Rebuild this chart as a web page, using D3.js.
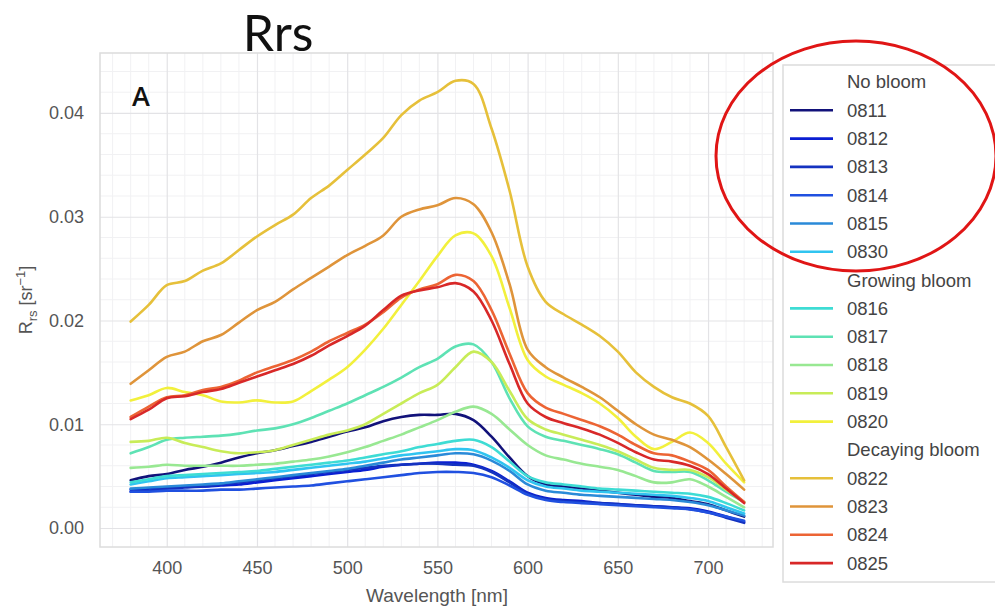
<!DOCTYPE html>
<html><head><meta charset="utf-8">
<script src="https://cdn.jsdelivr.net/npm/d3@7"></script>
<style>
body{margin:0;background:#fff;}
svg{display:block;font-family:"Liberation Sans",Arial,sans-serif;}
</style></head>
<body><svg id="chart" width="995" height="607"></svg>
<script>
const wavelengths = [380,390,400,410,420,430,440,450,460,470,480,490,500,510,520,530,540,550,560,570,580,590,600,610,620,630,640,650,660,670,680,690,700,710,720];

const groups = ["No bloom","Growing bloom","Decaying bloom"];
const seriesNames = ["0811","0812","0813","0814","0815","0830","0816","0817","0818","0819","0820","0822","0823","0824","0825"];
const seriesGroup = [0,0,0,0,0,0,1,1,1,1,1,2,2,2,2];
const seriesColors = ["#12127a","#0a1ed2","#1432c0","#2050e0","#2a8ad8","#30c4f0","#3edcd4","#5ee2b4","#98e892","#c8ec58","#f2f03c","#e6c03a","#df943a","#ec6434","#d82828"];

const s0811 = [0.0046,0.0050,0.0052,0.0056,0.0059,0.0063,0.0068,0.0072,0.0075,0.0079,0.0083,0.0088,0.0093,0.0097,0.0103,0.0107,0.0109,0.0109,0.0110,0.0104,0.0088,0.0068,0.0050,0.0042,0.0040,0.0038,0.0036,0.0034,0.0032,0.0030,0.0029,0.0026,0.0023,0.0017,0.0011];
const s0812 = [0.0037,0.0038,0.0039,0.0040,0.0040,0.0041,0.0042,0.0044,0.0046,0.0048,0.0050,0.0052,0.0054,0.0056,0.0059,0.0061,0.0062,0.0063,0.0063,0.0061,0.0055,0.0045,0.0034,0.0029,0.0027,0.0026,0.0024,0.0023,0.0022,0.0021,0.0020,0.0019,0.0016,0.0011,0.0006];
const s0813 = [0.0035,0.0036,0.0038,0.0039,0.0040,0.0042,0.0044,0.0046,0.0048,0.0050,0.0052,0.0054,0.0056,0.0058,0.0060,0.0061,0.0062,0.0062,0.0061,0.0060,0.0054,0.0044,0.0033,0.0028,0.0026,0.0025,0.0024,0.0023,0.0022,0.0021,0.0020,0.0018,0.0015,0.0010,0.0005];
const s0814 = [0.0035,0.0035,0.0036,0.0036,0.0036,0.0037,0.0037,0.0038,0.0039,0.0040,0.0041,0.0043,0.0045,0.0047,0.0049,0.0051,0.0053,0.0054,0.0054,0.0053,0.0049,0.0041,0.0032,0.0027,0.0025,0.0024,0.0023,0.0022,0.0021,0.0020,0.0019,0.0018,0.0015,0.0011,0.0007];
const s0815 = [0.0038,0.0039,0.0040,0.0041,0.0042,0.0043,0.0045,0.0047,0.0049,0.0051,0.0053,0.0055,0.0057,0.0060,0.0063,0.0066,0.0068,0.0070,0.0072,0.0071,0.0065,0.0055,0.0042,0.0036,0.0034,0.0032,0.0031,0.0030,0.0029,0.0028,0.0027,0.0025,0.0022,0.0017,0.0012];
const s0830 = [0.0042,0.0045,0.0048,0.0049,0.0050,0.0051,0.0052,0.0053,0.0054,0.0056,0.0058,0.0060,0.0062,0.0064,0.0067,0.0070,0.0072,0.0074,0.0076,0.0075,0.0068,0.0058,0.0046,0.0040,0.0038,0.0036,0.0035,0.0034,0.0033,0.0032,0.0031,0.0029,0.0026,0.0020,0.0014];
const s0816 = [0.0044,0.0047,0.0050,0.0051,0.0052,0.0053,0.0054,0.0055,0.0057,0.0059,0.0061,0.0063,0.0065,0.0068,0.0071,0.0074,0.0078,0.0081,0.0084,0.0085,0.0078,0.0064,0.0050,0.0044,0.0042,0.0040,0.0038,0.0037,0.0036,0.0035,0.0034,0.0033,0.0030,0.0024,0.0017];
const s0817 = [0.0072,0.0078,0.0085,0.0087,0.0088,0.0089,0.0091,0.0094,0.0096,0.0100,0.0106,0.0113,0.0120,0.0128,0.0136,0.0145,0.0155,0.0163,0.0175,0.0177,0.0160,0.0125,0.0098,0.0088,0.0084,0.0080,0.0076,0.0071,0.0063,0.0055,0.0054,0.0054,0.0046,0.0035,0.0025];
const s0818 = [0.0058,0.0059,0.0061,0.0060,0.0060,0.0060,0.0060,0.0061,0.0062,0.0064,0.0066,0.0069,0.0073,0.0078,0.0084,0.0090,0.0097,0.0104,0.0112,0.0117,0.0110,0.0095,0.0080,0.0070,0.0066,0.0062,0.0059,0.0056,0.0050,0.0044,0.0044,0.0047,0.0040,0.0030,0.0020];
const s0819 = [0.0083,0.0084,0.0087,0.0082,0.0078,0.0074,0.0072,0.0073,0.0075,0.0080,0.0085,0.0090,0.0094,0.0100,0.0110,0.0120,0.0130,0.0138,0.0155,0.0170,0.0160,0.0132,0.0105,0.0095,0.0090,0.0085,0.0080,0.0074,0.0066,0.0058,0.0056,0.0056,0.0049,0.0037,0.0025];
const s0820 = [0.0123,0.0128,0.0135,0.0131,0.0128,0.0122,0.0121,0.0123,0.0121,0.0122,0.0132,0.0143,0.0155,0.0172,0.0192,0.0215,0.0238,0.0262,0.0282,0.0284,0.0262,0.0212,0.0162,0.0146,0.0138,0.0130,0.0120,0.0106,0.0088,0.0076,0.0083,0.0092,0.0082,0.0062,0.0044];
const s0822 = [0.0199,0.0215,0.0234,0.0238,0.0248,0.0255,0.0268,0.0281,0.0292,0.0302,0.0318,0.0330,0.0345,0.0360,0.0376,0.0398,0.0412,0.0420,0.0431,0.0428,0.0385,0.0325,0.0252,0.0218,0.0206,0.0196,0.0185,0.0170,0.0150,0.0136,0.0126,0.0120,0.0108,0.0078,0.0046];
const s0823 = [0.0139,0.0152,0.0165,0.0170,0.0180,0.0186,0.0198,0.0210,0.0218,0.0230,0.0241,0.0252,0.0263,0.0272,0.0282,0.0300,0.0307,0.0311,0.0318,0.0312,0.0285,0.0235,0.0172,0.0155,0.0145,0.0136,0.0126,0.0113,0.0100,0.0090,0.0085,0.0078,0.0066,0.0052,0.0037];
const s0824 = [0.0107,0.0117,0.0126,0.0128,0.0133,0.0136,0.0142,0.0150,0.0156,0.0162,0.0170,0.0180,0.0188,0.0196,0.0208,0.0222,0.0230,0.0235,0.0244,0.0238,0.0210,0.0168,0.0130,0.0116,0.0110,0.0104,0.0098,0.0090,0.0080,0.0072,0.0070,0.0064,0.0056,0.0040,0.0025];
const s0825 = [0.0105,0.0114,0.0125,0.0127,0.0131,0.0134,0.0140,0.0146,0.0152,0.0158,0.0166,0.0176,0.0185,0.0195,0.0210,0.0224,0.0229,0.0232,0.0236,0.0228,0.0200,0.0158,0.0120,0.0107,0.0101,0.0096,0.0090,0.0082,0.0073,0.0066,0.0064,0.0060,0.0052,0.0038,0.0024];

const seriesValues = [s0811,s0812,s0813,s0814,s0815,s0830,s0816,s0817,s0818,s0819,s0820,s0822,s0823,s0824,s0825];
const xTicks = [400,450,500,550,600,650,700];
const yTicks = [0.00,0.01,0.02,0.03,0.04];

const svg = d3.select("#chart");
const L = 100, R = 773, T = 53, B = 547;
const x = d3.scaleLinear().domain([363, 736]).range([L, R]);
const y = d3.scaleLinear().domain([-0.00183, 0.04578]).range([B, T]);

// minor grid
const gMinor = svg.append("g");
gMinor.selectAll("line.mx").data(d3.range(370, 736, 10).filter(v => v % 50 !== 0))
  .join("line").attr("x1", d => x(d)).attr("x2", d => x(d)).attr("y1", T).attr("y2", B)
  .attr("stroke", "#f1f1f3").attr("stroke-width", 1);
gMinor.selectAll("line.my").data(d3.range(-1, 23).map(i => i * 0.002).filter(v => Math.abs(Math.round(v*1000) % 10) !== 0 && y(v) > T && y(v) < B))
  .join("line").attr("x1", L).attr("x2", R).attr("y1", d => y(d)).attr("y2", d => y(d))
  .attr("stroke", "#f1f1f3").attr("stroke-width", 1);

// major grid via axes
const xAxis = svg.append("g").attr("transform", `translate(0,${B})`)
  .call(d3.axisBottom(x).tickValues(xTicks).tickSize(-(B - T)).tickPadding(14).tickFormat(d3.format("d")));
const yAxis = svg.append("g").attr("transform", `translate(${L},0)`)
  .call(d3.axisLeft(y).tickValues(yTicks).tickSize(-(R - L)).tickPadding(16).tickFormat(d3.format(".2f")));
[xAxis, yAxis].forEach(a => {
  a.select(".domain").remove();
  a.selectAll(".tick line").attr("stroke", "#e3e3e6").attr("stroke-width", 1.2);
  a.selectAll(".tick text").attr("fill", "#555").style("font-size", "18px").style("font-family", "Liberation Sans, Arial, sans-serif");
});

// frame
svg.append("rect").attr("x", L).attr("y", T).attr("width", R - L).attr("height", B - T)
  .attr("fill", "none").attr("stroke", "#dcdcdc").attr("stroke-width", 1.5);

// lines
const line = d3.line().x((d, i) => x(wavelengths[i])).y(d => y(d)).curve(d3.curveCatmullRom.alpha(0.5));
svg.append("g").selectAll("path").data(seriesValues).join("path")
  .attr("d", d => line(d)).attr("fill", "none")
  .attr("stroke", (d, i) => seriesColors[i]).attr("stroke-width", 2.6)
  .attr("stroke-linejoin", "round").attr("stroke-linecap", "round");

// title and panel label
svg.append("text").attr("x", 278).attr("y", 51).attr("text-anchor", "middle")
  .style("font-family", "Lato, 'Open Sans', sans-serif").style("font-size", "50px").attr("fill", "#111").text("Rrs");
svg.append("text").attr("x", 141).attr("y", 106).attr("text-anchor", "middle")
  .style("font-family", "'Open Sans', sans-serif").style("font-weight", 600).style("font-size", "27px").attr("fill", "#111").text("A");

// axis labels
svg.append("text").attr("x", 437).attr("y", 602).attr("text-anchor", "middle")
  .attr("fill", "#555").style("font-size", "19px").text("Wavelength [nm]");
const yl = svg.append("text").attr("transform", "translate(32,300) rotate(-90)").attr("text-anchor", "middle")
  .attr("fill", "#555").style("font-size", "18px");
yl.append("tspan").text("R");
yl.append("tspan").attr("dy", 5).style("font-size", "13px").text("rs");
yl.append("tspan").attr("dy", -5).text(" [sr");
yl.append("tspan").attr("dy", -7).style("font-size", "13px").text("−1");
yl.append("tspan").attr("dy", 7).text("]");

// legend
const lg = svg.append("g");
lg.append("rect").attr("x", 783).attr("y", 65).attr("width", 230).attr("height", 517)
  .attr("fill", "#fff").attr("stroke", "#dcdcdc").attr("stroke-width", 1.5);
const rows = [];
groups.forEach((g, gi) => {
  rows.push({label: g, color: null});
  seriesNames.forEach((n, i) => { if (seriesGroup[i] === gi) rows.push({label: n, color: seriesColors[i]}); });
});
const rowY = i => 82 + i * 28.3;
rows.forEach((r, i) => {
  if (r.color) lg.append("line").attr("x1", 790).attr("x2", 833).attr("y1", rowY(i)).attr("y2", rowY(i))
    .attr("stroke", r.color).attr("stroke-width", 2.6);
  lg.append("text").attr("x", 847).attr("y", rowY(i)).attr("dy", "0.35em").attr("fill", "#444")
    .style("font-size", "18.5px").text(r.label);
});

// red highlight ellipse
svg.append("ellipse").attr("cx", 856).attr("cy", 156).attr("rx", 140).attr("ry", 115)
  .attr("fill", "none").attr("stroke", "#e01515").attr("stroke-width", 3);
</script></body></html>
